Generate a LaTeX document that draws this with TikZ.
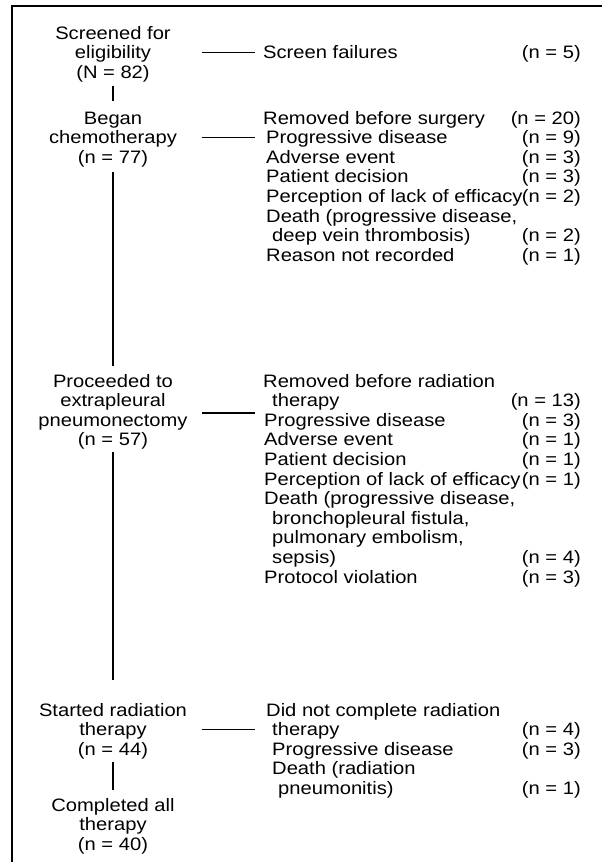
\documentclass[tikz,border=0pt]{standalone}
\usepackage{fontspec}
\setmainfont{Liberation Sans}[FakeStretch=1.12]
\tikzset{
  lab/.style={anchor=base, inner sep=0pt},
  item/.style={anchor=base west, inner sep=0pt},
  cnt/.style={anchor=base east, inner sep=0pt},
  conn/.style={line width=1.5pt},
  vconn/.style={line width=2pt},
  frame/.style={line width=1.2pt}
}
\begin{document}
\begin{tikzpicture}[x=1pt,y=-1pt,font=\fontsize{18}{19.6}\selectfont]
\useasboundingbox (0,0) rectangle (607,865);
% frame (top and left only)
\coordinate (ftl) at (12,6);
\coordinate (ftr) at (602,6);
\coordinate (fbl) at (12,862);
\draw[frame] (ftr) -- (ftl) -- (fbl);
% left column
\node[lab] (s1) at (113,39) {Screened for};
\node[lab] (s2) at (113,58.6) {eligibility};
\node[lab] (s3) at (113,78.2) {(N = 82)};
\node[lab] (c1) at (113,124) {Began};
\node[lab] (c2) at (113,143.6) {chemotherapy};
\node[lab] (c3) at (113,163.2) {(n = 77)};
\node[lab] (e1) at (113,387) {Proceeded to};
\node[lab] (e2) at (113,406.6) {extrapleural};
\node[lab] (e3) at (113,426.2) {pneumonectomy};
\node[lab] (e4) at (113,445.8) {(n = 57)};
\node[lab] (r1) at (113,716) {Started radiation};
\node[lab] (r2) at (113,735.6) {therapy};
\node[lab] (r3) at (113,755.2) {(n = 44)};
\node[lab] (d1) at (113,811) {Completed all};
\node[lab] (d2) at (113,830.6) {therapy};
\node[lab] (d3) at (113,850.2) {(n = 40)};
% vertical connectors
\coordinate (v1a) at (113,86);  \coordinate (v1b) at (113,101);
\coordinate (v2a) at (113,172); \coordinate (v2b) at (113,366);
\coordinate (v3a) at (113,452); \coordinate (v3b) at (113,680);
\coordinate (v4a) at (113,762); \coordinate (v4b) at (113,790);
\draw[vconn] (v1a) -- (v1b);
\draw[vconn] (v2a) -- (v2b);
\draw[vconn] (v3a) -- (v3b);
\draw[vconn] (v4a) -- (v4b);
% right: screen failures
\node[item] (a1) at (263,58.6) {Screen failures};
\node[cnt] (a1n) at (581,58.6) {(n = 5)};
% right: removed before surgery
\node[item] (b1) at (263,124) {Removed before surgery};
\node[cnt] (b1n) at (581,124) {(n = 20)};
\node[item] (b2) at (266,143.6) {Progressive disease};
\node[cnt] (b2n) at (581,143.6) {(n = 9)};
\node[item] (b3) at (266,163.2) {Adverse event};
\node[cnt] (b3n) at (581,163.2) {(n = 3)};
\node[item] (b4) at (266,182.8) {Patient decision};
\node[cnt] (b4n) at (581,182.8) {(n = 3)};
\node[item] (b5) at (266,202.4) {Perception of lack of efficacy};
\node[cnt] (b5n) at (581,202.4) {(n = 2)};
\node[item] (b6) at (266,222) {Death (progressive disease,};
\node[item] (b7) at (272,241.6) {deep vein thrombosis)};
\node[cnt] (b7n) at (581,241.6) {(n = 2)};
\node[item] (b8) at (266,261.2) {Reason not recorded};
\node[cnt] (b8n) at (581,261.2) {(n = 1)};
% right: removed before radiation
\node[item] (g1) at (263,387) {Removed before radiation};
\node[item] (g2) at (272,406.6) {therapy};
\node[cnt] (g2n) at (581,406.6) {(n = 13)};
\node[item] (g3) at (264,426.2) {Progressive disease};
\node[cnt] (g3n) at (581,426.2) {(n = 3)};
\node[item] (g4) at (264,445.8) {Adverse event};
\node[cnt] (g4n) at (581,445.8) {(n = 1)};
\node[item] (g5) at (264,465.4) {Patient decision};
\node[cnt] (g5n) at (581,465.4) {(n = 1)};
\node[item] (g6) at (264,485) {Perception of lack of efficacy};
\node[cnt] (g6n) at (581,485) {(n = 1)};
\node[item] (g7) at (264,504.6) {Death (progressive disease,};
\node[item] (g8) at (272,524.2) {bronchopleural fistula,};
\node[item] (g9) at (272,543.8) {pulmonary embolism,};
\node[item] (g10) at (272,563.4) {sepsis)};
\node[cnt] (g10n) at (581,563.4) {(n = 4)};
\node[item] (g11) at (264,583) {Protocol violation};
\node[cnt] (g11n) at (581,583) {(n = 3)};
% right: did not complete radiation
\node[item] (h1) at (266,716) {Did not complete radiation};
\node[item] (h2) at (272,735.6) {therapy};
\node[cnt] (h2n) at (581,735.6) {(n = 4)};
\node[item] (h3) at (272,755.2) {Progressive disease};
\node[cnt] (h3n) at (581,755.2) {(n = 3)};
\node[item] (h4) at (272,774.8) {Death (radiation};
\node[item] (h5) at (278,794.4) {pneumonitis)};
\node[cnt] (h5n) at (581,794.4) {(n = 1)};
% horizontal connectors
\coordinate (k1a) at (202,52.6);  \coordinate (k1b) at (255,52.6);
\coordinate (k2a) at (202,137.6); \coordinate (k2b) at (255,137.6);
\coordinate (k3a) at (202,413);   \coordinate (k3b) at (255,413);
\coordinate (k4a) at (202,729.6); \coordinate (k4b) at (255,729.6);
\draw[conn] (k1a) -- (k1b);
\draw[conn] (k2a) -- (k2b);
\draw[conn] (k3a) -- (k3b);
\draw[conn] (k4a) -- (k4b);
\end{tikzpicture}
\end{document}
